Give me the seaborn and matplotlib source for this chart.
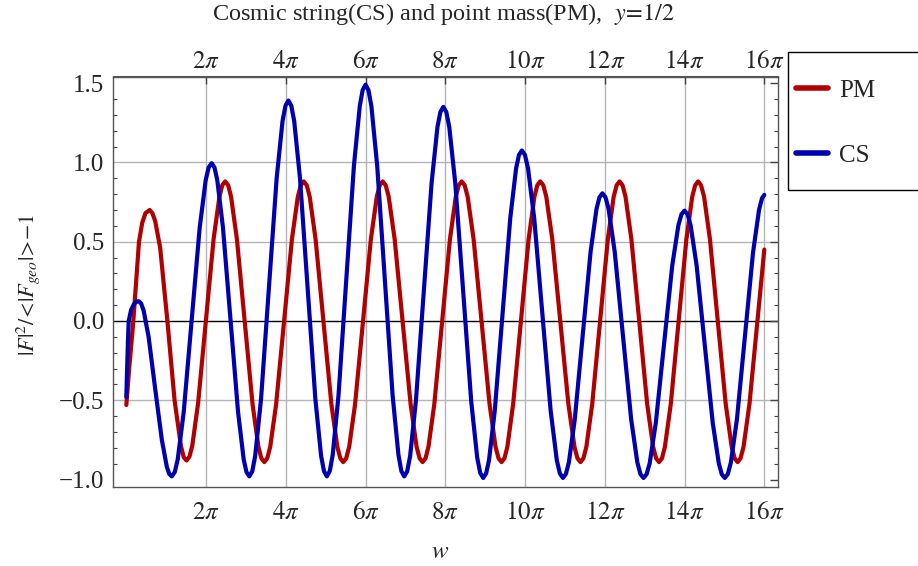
import numpy as np
import pandas as pd
import seaborn as sns
import matplotlib
matplotlib.use("Agg")
import matplotlib.pyplot as plt
from matplotlib.patches import Rectangle
from matplotlib.ticker import MultipleLocator


# ------------------------------------------------------------------------------
# 1) Values (w given in units of pi)
# ------------------------------------------------------------------------------

pm_w = [0.0, 0.075, 0.176, 0.25, 0.318, 0.40, 0.48,
        0.585, 0.654, 0.724, 0.85, 1.03, 1.21, 1.371, 1.441,
        1.51, 1.583, 1.656, 1.801, 1.995, 2.189, 2.335, 2.407,
        2.48, 2.554, 2.627, 2.774, 2.97, 3.166, 3.313, 3.387,
        3.46, 3.534, 3.609, 3.757, 3.955, 4.153, 4.302, 4.376,
        4.45, 4.524, 4.599, 4.747, 4.945, 5.143, 5.292, 5.366,
        5.44, 5.514, 5.589, 5.737, 5.935, 6.133, 6.282, 6.356,
        6.43, 6.505, 6.58, 6.73, 6.93, 7.13, 7.28, 7.355,
        7.43, 7.504, 7.577, 7.724, 7.92, 8.116, 8.263, 8.337,
        8.41, 8.485, 8.56, 8.71, 8.91, 9.11, 9.26, 9.335,
        9.41, 9.483, 9.556, 9.701, 9.895, 10.089, 10.235, 10.307,
        10.38, 10.456, 10.532, 10.683, 10.885, 11.087, 11.239, 11.314,
        11.39, 11.464, 11.537, 11.684, 11.88, 12.076, 12.223, 12.297,
        12.37, 12.444, 12.519, 12.667, 12.865, 13.063, 13.212, 13.286,
        13.36, 13.434, 13.507, 13.654, 13.85, 14.046, 14.193, 14.267,
        14.34, 14.414, 14.489, 14.637, 14.835, 15.033, 15.182, 15.256,
        15.33, 15.404, 15.479, 15.627, 15.825, 16.0]
pm_val = [-0.53, -0.29, 0.0, 0.26, 0.50, 0.62, 0.68,
          0.70, 0.68, 0.63, 0.46, 0.0, -0.50, -0.79, -0.86,
          -0.88, -0.856, -0.784, -0.517, 0.0, 0.517, 0.784, 0.856,
          0.88, 0.856, 0.784, 0.515, -0.005, -0.525, -0.794, -0.866,
          -0.89, -0.866, -0.794, -0.525, -0.005, 0.515, 0.784, 0.856,
          0.88, 0.856, 0.784, 0.515, -0.005, -0.525, -0.794, -0.866,
          -0.89, -0.866, -0.794, -0.525, -0.005, 0.515, 0.784, 0.856,
          0.88, 0.856, 0.784, 0.515, -0.005, -0.525, -0.794, -0.866,
          -0.89, -0.866, -0.794, -0.525, -0.005, 0.515, 0.784, 0.856,
          0.88, 0.856, 0.784, 0.515, -0.005, -0.525, -0.794, -0.866,
          -0.89, -0.866, -0.794, -0.525, -0.005, 0.515, 0.784, 0.856,
          0.88, 0.856, 0.784, 0.515, -0.005, -0.525, -0.794, -0.866,
          -0.89, -0.866, -0.794, -0.525, -0.005, 0.515, 0.784, 0.856,
          0.88, 0.856, 0.784, 0.515, -0.005, -0.525, -0.794, -0.866,
          -0.89, -0.866, -0.794, -0.525, -0.005, 0.515, 0.784, 0.856,
          0.88, 0.856, 0.784, 0.515, -0.005, -0.525, -0.794, -0.866,
          -0.89, -0.866, -0.794, -0.525, -0.005, 0.45]

cs_w = [0.0, 0.02, 0.04, 0.06, 0.12, 0.20, 0.25,
        0.31, 0.372, 0.435, 0.559, 0.725, 0.891, 1.016, 1.078,
        1.14, 1.215, 1.29, 1.44, 1.64, 1.84, 1.99, 2.065,
        2.14, 2.211, 2.282, 2.424, 2.613, 2.802, 2.943, 3.014,
        3.085, 3.159, 3.232, 3.379, 3.575, 3.771, 3.918, 3.992,
        4.065, 4.137, 4.21, 4.355, 4.548, 4.741, 4.885, 4.958,
        5.03, 5.103, 5.176, 5.321, 5.515, 5.709, 5.855, 5.927,
        6.0, 6.073, 6.146, 6.291, 6.485, 6.679, 6.825, 6.897,
        6.97, 7.044, 7.117, 7.264, 7.46, 7.656, 7.803, 7.877,
        7.95, 8.025, 8.1, 8.25, 8.45, 8.65, 8.8, 8.875,
        8.95, 9.023, 9.096, 9.241, 9.435, 9.629, 9.775, 9.847,
        9.92, 9.997, 10.075, 10.229, 10.435, 10.641, 10.796, 10.873,
        10.95, 11.024, 11.099, 11.247, 11.445, 11.643, 11.792, 11.866,
        11.94, 12.017, 12.095, 12.249, 12.455, 12.661, 12.816, 12.893,
        12.97, 13.047, 13.125, 13.279, 13.485, 13.691, 13.846, 13.923,
        14.0, 14.076, 14.152, 14.303, 14.505, 14.707, 14.859, 14.934,
        15.01, 15.086, 15.162, 15.313, 15.515, 15.717, 15.869, 15.944, 16.0]
cs_val = [-0.48, -0.30, -0.13, 0.0, 0.07, 0.11, 0.12,
          0.125, 0.11, 0.065, -0.10, -0.43, -0.75, -0.92, -0.965,
          -0.98, -0.953, -0.872, -0.573, 0.008, 0.588, 0.887, 0.968,
          0.995, 0.968, 0.887, 0.588, 0.008, -0.573, -0.872, -0.953,
          -0.98, -0.948, -0.851, -0.492, 0.205, 0.902, 1.261, 1.358,
          1.39, 1.358, 1.261, 0.902, 0.205, -0.492, -0.851, -0.948,
          -0.98, -0.946, -0.845, -0.471, 0.255, 0.981, 1.355, 1.456,
          1.49, 1.456, 1.355, 0.981, 0.255, -0.471, -0.845, -0.946,
          -0.98, -0.948, -0.853, -0.500, 0.185, 0.870, 1.223, 1.318,
          1.35, 1.318, 1.222, 0.868, 0.18, -0.508, -0.862, -0.958,
          -0.99, -0.962, -0.878, -0.564, 0.043, 0.649, 0.962, 1.047,
          1.075, 1.047, 0.962, 0.649, 0.043, -0.564, -0.878, -0.962,
          -0.99, -0.965, -0.892, -0.620, -0.093, 0.435, 0.707, 0.780,
          0.805, 0.780, 0.707, 0.435, -0.093, -0.620, -0.892, -0.965,
          -0.99, -0.967, -0.898, -0.643, -0.147, 0.349, 0.604, 0.673,
          0.696, 0.673, 0.604, 0.349, -0.147, -0.643, -0.898, -0.967,
          -0.99, -0.965, -0.892, -0.621, -0.095, 0.431, 0.702, 0.775, 0.795]

series_names = ["PM", "CS"]
series_colors = {"PM": "#b00000", "CS": "#0000b0"}

x_ticks = [2, 4, 6, 8, 10, 12, 14, 16]
x_ticklabels = [r"$2\pi$", r"$4\pi$", r"$6\pi$", r"$8\pi$",
                r"$10\pi$", r"$12\pi$", r"$14\pi$", r"$16\pi$"]
y_ticks = [-1.0, -0.5, 0.0, 0.5, 1.0, 1.5]
y_ticklabels = ["\u22121.0", "\u22120.5", "0.0", "0.5", "1.0", "1.5"]
y_grid = [-0.5, 0.5, 1.0]

df = pd.concat([
    pd.DataFrame({"w": pm_w, "value": pm_val, "series": "PM"}),
    pd.DataFrame({"w": cs_w, "value": cs_val, "series": "CS"}),
], ignore_index=True)


# ------------------------------------------------------------------------------
# 2) Plot
# ------------------------------------------------------------------------------

sns.set_style("white")
plt.rcParams["font.family"] = ["Liberation Serif", "DejaVu Serif"]
plt.rcParams["mathtext.fontset"] = "stix"

W, H = 918, 566
fig = plt.figure(figsize=(W / 100, H / 100), dpi=100)
ax = fig.add_axes([113 / W, 1 - 487 / H, (777.7 - 113) / W, (487 - 76.5) / H])

# grid lines first so the curves sit on top
for gx in x_ticks:
    ax.axvline(gx, color="#b4b4b4", lw=1.0, zorder=0)
for gy in y_grid:
    ax.axhline(gy, color="#b4b4b4", lw=1.0, zorder=0)
ax.axhline(0, color="black", lw=1.0, zorder=0.5)

sns.lineplot(data=df, x="w", y="value", hue="series", hue_order=series_names,
             palette=series_colors, estimator=None, sort=False, linewidth=3,
             ax=ax)

ax.set_xlim(-0.334, 16.336)
ax.set_ylim(-1.047, 1.5416)

ax.set_xticks(x_ticks)
ax.set_xticklabels(x_ticklabels)
ax.set_yticks(y_ticks)
ax.set_yticklabels(y_ticklabels)
ax.yaxis.set_minor_locator(MultipleLocator(0.1))

ax.tick_params(axis="x", which="major", direction="in", length=5.5, width=1,
               color="#444444", top=False, labelsize=18, pad=11)
ax.tick_params(axis="y", which="major", direction="in", length=5.5, width=1,
               color="#444444", right=True, labelsize=18, pad=6.5)
ax.tick_params(axis="y", which="minor", direction="in", length=3, width=0.8,
               color="#444444", left=True, right=True)

# top axis repeats the pi labels
top = ax.secondary_xaxis("top")
top.set_xticks(x_ticks)
top.set_xticklabels(x_ticklabels)
top.tick_params(direction="in", length=5.5, width=1, color="#444444",
                labelsize=18, pad=2.5)
top.spines["top"].set_color("#555555")

for side in ["left", "right", "top", "bottom"]:
    ax.spines[side].set_visible(True)
    ax.spines[side].set_color("#555555")
    ax.spines[side].set_linewidth(1)

ax.set_xlabel("")
ax.set_ylabel("")

fig.text(444 / W, 1 - 14 / H,
         r"Cosmic string(CS) and point mass(PM),  $y\!=\!\mathit{1/2}$",
         ha="center", va="center", fontsize=17.5)
fig.text(440 / W, 1 - 552 / H, r"$w$", ha="center", va="center", fontsize=18)
fig.text(28 / W, 1 - 285 / H, r"$|F|^2/\!<\!|F_{geo}|\!>\!{-}\mathit{1}$",
         ha="center", va="center", rotation=90, fontsize=16)

sns.move_legend(ax, loc="upper left", bbox_to_anchor=(788 / W, 1 - 72 / H),
                bbox_transform=fig.transFigure, frameon=False, title=None,
                fontsize=18, handlelength=1.28, handletextpad=0.48,
                labelspacing=1.68, borderaxespad=0, borderpad=0.3)
leg = ax.get_legend()
for h in leg.legend_handles:
    h.set_linewidth(4)

# legend frame runs off the right edge as in the reference
fig.patches.append(Rectangle((788 / W, 1 - 190 / H), 150 / W, 138 / H,
                             transform=fig.transFigure, fill=False,
                             edgecolor="black", lw=1.0))

fig.savefig("out.png", dpi=100)
